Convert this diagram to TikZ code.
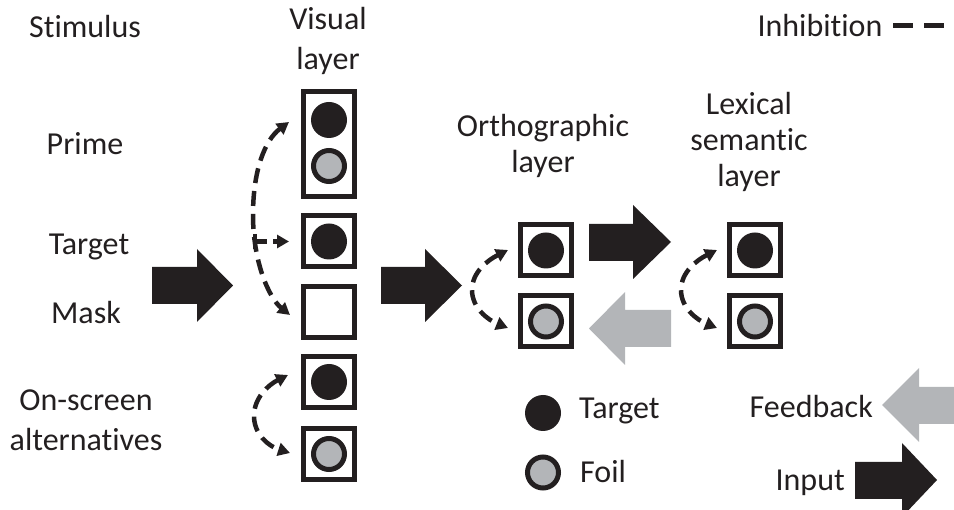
\documentclass[tikz,border=0pt]{standalone}
\usepackage{fontspec}
\setmainfont{Carlito}[Ligatures=NoCommon]
\usetikzlibrary{arrows.meta}
\definecolor{ink}{HTML}{231F20}
\definecolor{fb}{HTML}{B3B5B8}
\newcommand\mlines[2]{{\fontsize{32}{#1}\selectfont\begin{tabular}[t]{@{}c@{}}#2\end{tabular}}}
\begin{document}
\begin{tikzpicture}[x=1pt,y=-1pt,
  lbl/.style={font=\fontsize{32}{40}\selectfont, inner sep=0pt, text=ink, anchor=base},
  unit/.style={draw=ink, line width=5pt, fill=white, minimum width=51pt, minimum height=51pt, inner sep=0pt},
  tgt/.style={circle, fill=ink, minimum size=36pt, inner sep=0pt},
  foil/.style={circle, draw=ink, fill=fb, line width=5pt, minimum size=31pt, inner sep=0pt},
  inh/.style={draw=ink, line width=4.5pt, dash pattern=on 15pt off 8pt, -{Triangle[length=12pt,width=13pt]}},
  inhtwo/.style={inh, {Triangle[length=12pt,width=13pt]}-{Triangle[length=12pt,width=13pt]}},
  blk/.style={fill=ink},
  gry/.style={fill=fb}]
\useasboundingbox (0,0) rectangle (954,510);

% labels
\node[lbl] (stim) at (85,38) {Stimulus};
\node[lbl] (vis) at (328,30) {\mlines{40}{Visual\\layer}};
\node[lbl] (prime) at (85,155) {Prime};
\node[lbl] (tgtlbl) at (89,255) {Target};
\node[lbl] (mask) at (86,324) {Mask};
\node[lbl] (alt) at (86,411) {\mlines{40}{On-screen\\alternatives}};
\node[lbl] (orth) at (543,137) {\mlines{36}{Orthographic\\layer}};
\node[lbl] (lex) at (749,115) {\mlines{36}{Lexical\\semantic\\layer}};
\node[lbl] (inhlbl) at (820,37) {Inhibition};
\node[lbl, anchor=base west] (legt) at (579,419) {Target};
\node[lbl, anchor=base west] (legf) at (580,483) {Foil};
\node[lbl, anchor=base east] (fbl) at (873,418) {Feedback};
\node[lbl, anchor=base east] (inp) at (845,491) {Input};

% visual layer
\node[unit, minimum height=105pt] (v1) at (329,144) {};
\node[tgt] (v1t) at (329,120) {};
\node[foil] (v1f) at (329,166) {};
\node[unit] (v2) at (329,241.5) {};
\node[tgt] (v2t) at (v2) {};
\node[unit] (v3) at (329,312) {};
\node[unit] (v4) at (329,382) {};
\node[tgt] (v4t) at (v4) {};
\node[unit] (v5) at (329,454) {};
\node[foil] (v5f) at (v5) {};

% orthographic layer
\node[unit] (o1) at (546,250.5) {};
\node[tgt] (o1t) at (o1) {};
\node[unit] (o2) at (546,321.5) {};
\node[foil] (o2f) at (o2) {};

% lexical semantic layer
\node[unit] (l1) at (755,250.5) {};
\node[tgt] (l1t) at (l1) {};
\node[unit] (l2) at (755,321.5) {};
\node[foil] (l2f) at (l2) {};

% legend circles
\node[tgt] (legtc) at (543,413) {};
\node[foil] (legfc) at (543,472.5) {};

% block arrows
\fill[blk] (152,267)--(197,267)--(197,249)--(233,285.5)--(197,322)--(197,304)--(152,304)--cycle;
\fill[blk] (381,267)--(425,267)--(425,249)--(462,285.5)--(425,322)--(425,304)--(381,304)--cycle;
\fill[blk] (589,224)--(633,224)--(633,205)--(671,242)--(633,279)--(633,261)--(589,261)--cycle;
\fill[gry] (671,310)--(625,310)--(625,292)--(589,328.5)--(625,365)--(625,347)--(671,347)--cycle;
\fill[gry] (955,387)--(919,387)--(919,368)--(882,405)--(919,442)--(919,424)--(955,424)--cycle;
\fill[blk] (855,462)--(902,462)--(902,443)--(937,480)--(902,517)--(902,499)--(855,499)--cycle;

% inhibition legend
\coordinate (ia) at (893,26);
\coordinate (ib) at (945,26);
\draw[ink, line width=5pt, dash pattern=on 20pt off 11pt] (ia) -- (ib);

% inhibition arcs: visual layer
\coordinate (va) at (289,122);
\coordinate (vb) at (290,315);
\draw[inhtwo] (va) .. controls (265,140) and (253,170) .. (253,215)
  .. controls (253,262) and (269,298) .. (vb);
\coordinate (ta) at (255,241.5);
\coordinate (tb) at (289,241.5);
\draw[ink, line width=4.5pt] (255,234) -- (255,249);
\draw[ink, line width=4.5pt, dash pattern=on 12pt off 6pt, -{Triangle[length=12pt,width=13pt]}] (ta) -- (tb);
\coordinate (wa) at (288,375);
\coordinate (wb) at (290,453);
\draw[inhtwo] (wa) .. controls (268,385) and (254,398) .. (254,416)
  .. controls (254,434) and (268,446) .. (wb);

% inhibition arcs: orthographic and lexical
\coordinate (oa) at (508,250);
\coordinate (ob) at (508,328);
\draw[inhtwo] (oa) .. controls (488,260) and (472,272) .. (472,290)
  .. controls (472,308) and (488,320) .. (ob);
\coordinate (la) at (717,250);
\coordinate (lb) at (717,328);
\draw[inhtwo] (la) .. controls (697,260) and (681,272) .. (681,290)
  .. controls (681,308) and (697,320) .. (lb);
\end{tikzpicture}
\end{document}
